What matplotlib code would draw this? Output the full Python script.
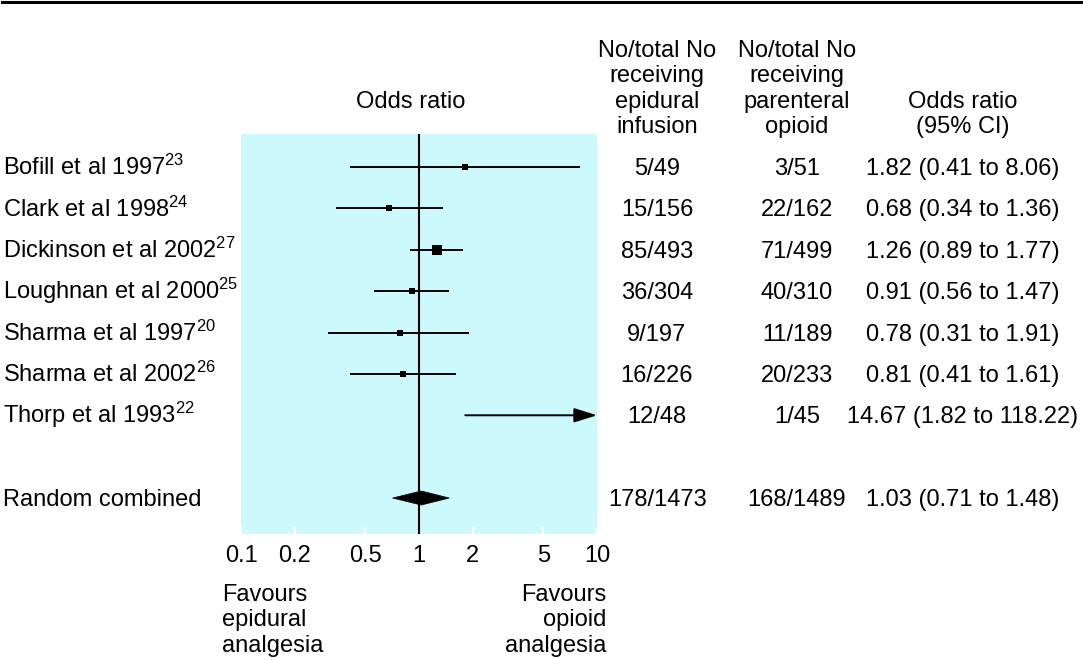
import matplotlib
matplotlib.use("Agg")
import matplotlib.pyplot as plt
from matplotlib import transforms
from matplotlib.lines import Line2D
from matplotlib.patches import Polygon
from matplotlib.ticker import NullLocator

plt.rcParams['font.family'] = ['Liberation Sans', 'DejaVu Sans']
plt.rcParams['mathtext.fontset'] = 'custom'
plt.rcParams['mathtext.rm'] = 'Liberation Sans'
plt.rcParams['mathtext.it'] = 'Liberation Sans:italic'
plt.rcParams['mathtext.bf'] = 'Liberation Sans:bold'
plt.rcParams['mathtext.default'] = 'regular'

# ---------------- data ----------------
studies = ["Bofill et al 1997", "Clark et al 1998", "Dickinson et al 2002",
           "Loughnan et al 2000", "Sharma et al 1997", "Sharma et al 2002",
           "Thorp et al 1993"]
refs = ["23", "24", "27", "25", "20", "26", "22"]
odds = [1.82, 0.68, 1.26, 0.91, 0.78, 0.81, 14.67]
ci_low = [0.41, 0.34, 0.89, 0.56, 0.31, 0.41, 1.82]
ci_high = [8.06, 1.36, 1.77, 1.47, 1.91, 1.61, 118.22]
weights = [2.4, 11.2, 45.5, 23.0, 6.5, 11.4, 1.2]
epidural = ["5/49", "15/156", "85/493", "36/304", "9/197", "16/226", "12/48"]
opioid = ["3/51", "22/162", "71/499", "40/310", "11/189", "20/233", "1/45"]
or_text = ["1.82 (0.41 to 8.06)", "0.68 (0.34 to 1.36)", "1.26 (0.89 to 1.77)",
           "0.91 (0.56 to 1.47)", "0.78 (0.31 to 1.91)", "0.81 (0.41 to 1.61)",
           "14.67 (1.82 to 118.22)"]

combined_label = "Random combined"
combined_or = 1.03
combined_low = 0.71
combined_high = 1.48
combined_epidural = "178/1473"
combined_opioid = "168/1489"
combined_text = "1.03 (0.71 to 1.48)"

ticks = [0.1, 0.2, 0.5, 1, 2, 5, 10]
tick_labels = ["0.1", "0.2", "0.5", "1", "2", "5", "10"]

header_plot = ["Odds ratio"]
header_epidural = ["No/total No", "receiving", "epidural", "infusion"]
header_opioid = ["No/total No", "receiving", "parenteral", "opioid"]
header_or = ["Odds ratio", "(95% CI)"]
footer_left = ["Favours", "epidural", "analgesia"]
footer_right = ["Favours", "opioid", "analgesia"]

# ---------------- layout ----------------
W, H = 1083, 660
FS = 17
fig = plt.figure(figsize=(W / 100, H / 100), dpi=100)
fig.patch.set_facecolor('white')

def fx(px):
    return px / W

def fy(py):
    return 1 - py / H

ax = fig.add_axes([fx(241), fy(534), fx(597) - fx(241), fy(134) - fy(534)])
ax.set_facecolor('#ccf9fc')
ax.set_xscale('log')
ax.set_xlim(0.1, 10)
ax.set_ylim(9.87, 0.2)
for sp in ax.spines.values():
    sp.set_visible(False)
ax.set_yticks([])
ax.set_xticks(ticks)
ax.set_xticklabels(tick_labels)
ax.xaxis.set_minor_locator(NullLocator())
ax.tick_params(axis='x', direction='in', length=5, width=1.6, color='white',
               pad=8, labelsize=FS, labelcolor='black')

rows = list(range(1, len(studies) + 1))
combined_row = len(studies) + 2

ax.axvline(1, color='black', lw=1.5, zorder=2)

xmax = ax.get_xlim()[1]
for r, o, lo, hi, w in zip(rows, odds, ci_low, ci_high, weights):
    if hi > xmax:
        ax.annotate("", xy=(xmax, r), xytext=(lo, r),
                    arrowprops=dict(arrowstyle="-|>,head_length=0.7,head_width=0.22",
                                    color='black', lw=1.4, shrinkA=0, shrinkB=0,
                                    mutation_scale=20),
                    annotation_clip=False, zorder=3)
    else:
        ax.plot([lo, hi], [r, r], color='black', lw=1.4, solid_capstyle='butt', zorder=3)
    if o <= xmax:
        side_px = max(6.0, 1.35 * w ** 0.5)
        ax.plot([o], [r], marker='s', ms=side_px * 0.72, color='black',
                mec='black', mew=0, zorder=4, linestyle='none')

h = 0.17
diamond = Polygon([(combined_low, combined_row), (combined_or, combined_row - h),
                   (combined_high, combined_row), (combined_or, combined_row + h)],
                  closed=True, facecolor='black', edgecolor='black', lw=0.5, zorder=4)
ax.add_patch(diamond)

# ---------------- text ----------------
row_trans = transforms.offset_copy(
    transforms.blended_transform_factory(fig.transFigure, ax.transData),
    fig=fig, y=-8, units='dots')

for r, s, ref, e, p, t in zip(rows, studies, refs, epidural, opioid, or_text):
    fig.text(fx(3), r, f"{s}$^{{{ref}}}$", transform=row_trans, ha='left',
             va='baseline', fontsize=FS)
    fig.text(fx(657), r, e, transform=row_trans, ha='center', va='baseline', fontsize=FS)
    fig.text(fx(797), r, p, transform=row_trans, ha='center', va='baseline', fontsize=FS)
    fig.text(fx(963), r, t, transform=row_trans, ha='center', va='baseline', fontsize=FS)

fig.text(fx(3), combined_row, combined_label, transform=row_trans, ha='left',
         va='baseline', fontsize=FS)
fig.text(fx(658), combined_row, combined_epidural, transform=row_trans, ha='center',
         va='baseline', fontsize=FS)
fig.text(fx(797), combined_row, combined_opioid, transform=row_trans, ha='center',
         va='baseline', fontsize=FS)
fig.text(fx(963), combined_row, combined_text, transform=row_trans, ha='center',
         va='baseline', fontsize=FS)

LS = 25.3
base_last = 133
def header(lines, xc, last_baseline=base_last):
    n = len(lines)
    for i, s in enumerate(lines):
        yb = last_baseline - (n - 1 - i) * LS
        fig.text(fx(xc), fy(yb), s, ha='center', va='baseline', fontsize=FS)

header(header_plot, 411, 108)
header(header_epidural, 657)
header(header_opioid, 797)
header(header_or, 963)

for i, s in enumerate(footer_left):
    fig.text(fx(222), fy(601 + i * LS), s, ha='left', va='baseline', fontsize=FS)
for i, s in enumerate(footer_right):
    fig.text(fx(606), fy(601 + i * LS), s, ha='right', va='baseline', fontsize=FS)

fig.add_artist(Line2D([fx(2), fx(1081)], [fy(2), fy(2)], lw=2.2, color='black'))

fig.savefig("out.png", dpi=100, facecolor='white')
